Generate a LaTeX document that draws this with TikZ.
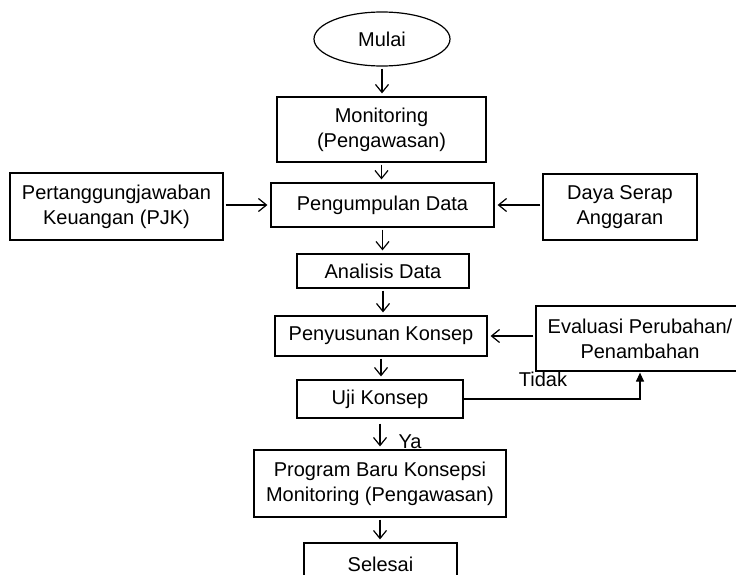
\documentclass[tikz,border=0pt]{standalone}
\usepackage{fontspec}
\setmainfont{Liberation Sans}
\usetikzlibrary{arrows.meta,shapes.geometric}
\begin{document}
\begin{tikzpicture}[x=1pt,y=-1pt,
  box/.style={draw,line width=1.2pt,rectangle,align=center,inner sep=0pt,
    font=\fontsize{20}{25}\selectfont},
  arr/.style={line width=1.2pt,-{Straight Barb[length=8pt,width=13pt]},shorten >=3pt,shorten <=2pt},
  farr/.style={line width=1.2pt,-{Triangle[length=9pt,width=8pt]},shorten >=1pt},
  lbl/.style={font=\fontsize{20}{25}\selectfont,inner sep=0pt}]
\useasboundingbox (0,0) rectangle (736,575);
\clip (0,0) rectangle (736,575);
\node[box,ellipse,minimum width=136pt,minimum height=54pt] (mulai) at (382,39) {Mulai};
\node[box,minimum width=209pt,minimum height=65pt] (mon) at (381.5,129.5) {Monitoring\\(Pengawasan)};
\node[box,minimum width=223pt,minimum height=44pt] (peng) at (382.5,205) {Pengumpulan Data};
\node[box,minimum width=213pt,minimum height=67pt] (pjk) at (116.5,206.5) {Pertanggungjawaban\\Keuangan (PJK)};
\node[box,minimum width=154pt,minimum height=66pt] (daya) at (620,207) {Daya Serap\\Anggaran};
\node[box,minimum width=172pt,minimum height=34pt] (anal) at (383,271) {Analisis Data};
\node[box,minimum width=212pt,minimum height=40pt] (peny) at (381,336) {Penyusunan Konsep};
\node[box,minimum width=208pt,minimum height=65pt] (eval) at (640,338.5) {Evaluasi Perubahan/\\Penambahan};
\node[box,minimum width=166pt,minimum height=38pt] (uji) at (380,399) {Uji Konsep};
\node[box,minimum width=252pt,minimum height=67pt] (prog) at (380,483.5) {Program Baru Konsepsi\\Monitoring (Pengawasan)};
\node[box,minimum width=153pt,minimum height=42pt] (sel) at (380.5,564) {Selesai};

\draw[arr] (mulai.south) -- (mulai.south |- mon.north);
\draw[arr] (mon.south) -- (mon.south |- peng.north);
\draw[arr] (pjk.east |- peng.west) -- (peng.west);
\draw[arr] (daya.west |- peng.east) -- (peng.east);
\draw[arr] (peng.south) -- (peng.south |- anal.north);
\draw[arr] (anal.south) -- (anal.south |- peny.north);
\draw[arr] (eval.west |- peny.east) -- (peny.east);
\draw[arr] (peny.south) -- (peny.south |- uji.north);
\draw[arr,shorten <=5pt] (uji.south) -- (uji.south |- prog.north) node[lbl,pos=0.75,right=18pt] (ya) {Ya};
\draw[arr] (prog.south) -- (prog.south |- sel.north);
\draw[farr] (uji.east) -| (eval.south);
\node[lbl] (tidak) at (543,379) {Tidak};
\end{tikzpicture}
\end{document}
